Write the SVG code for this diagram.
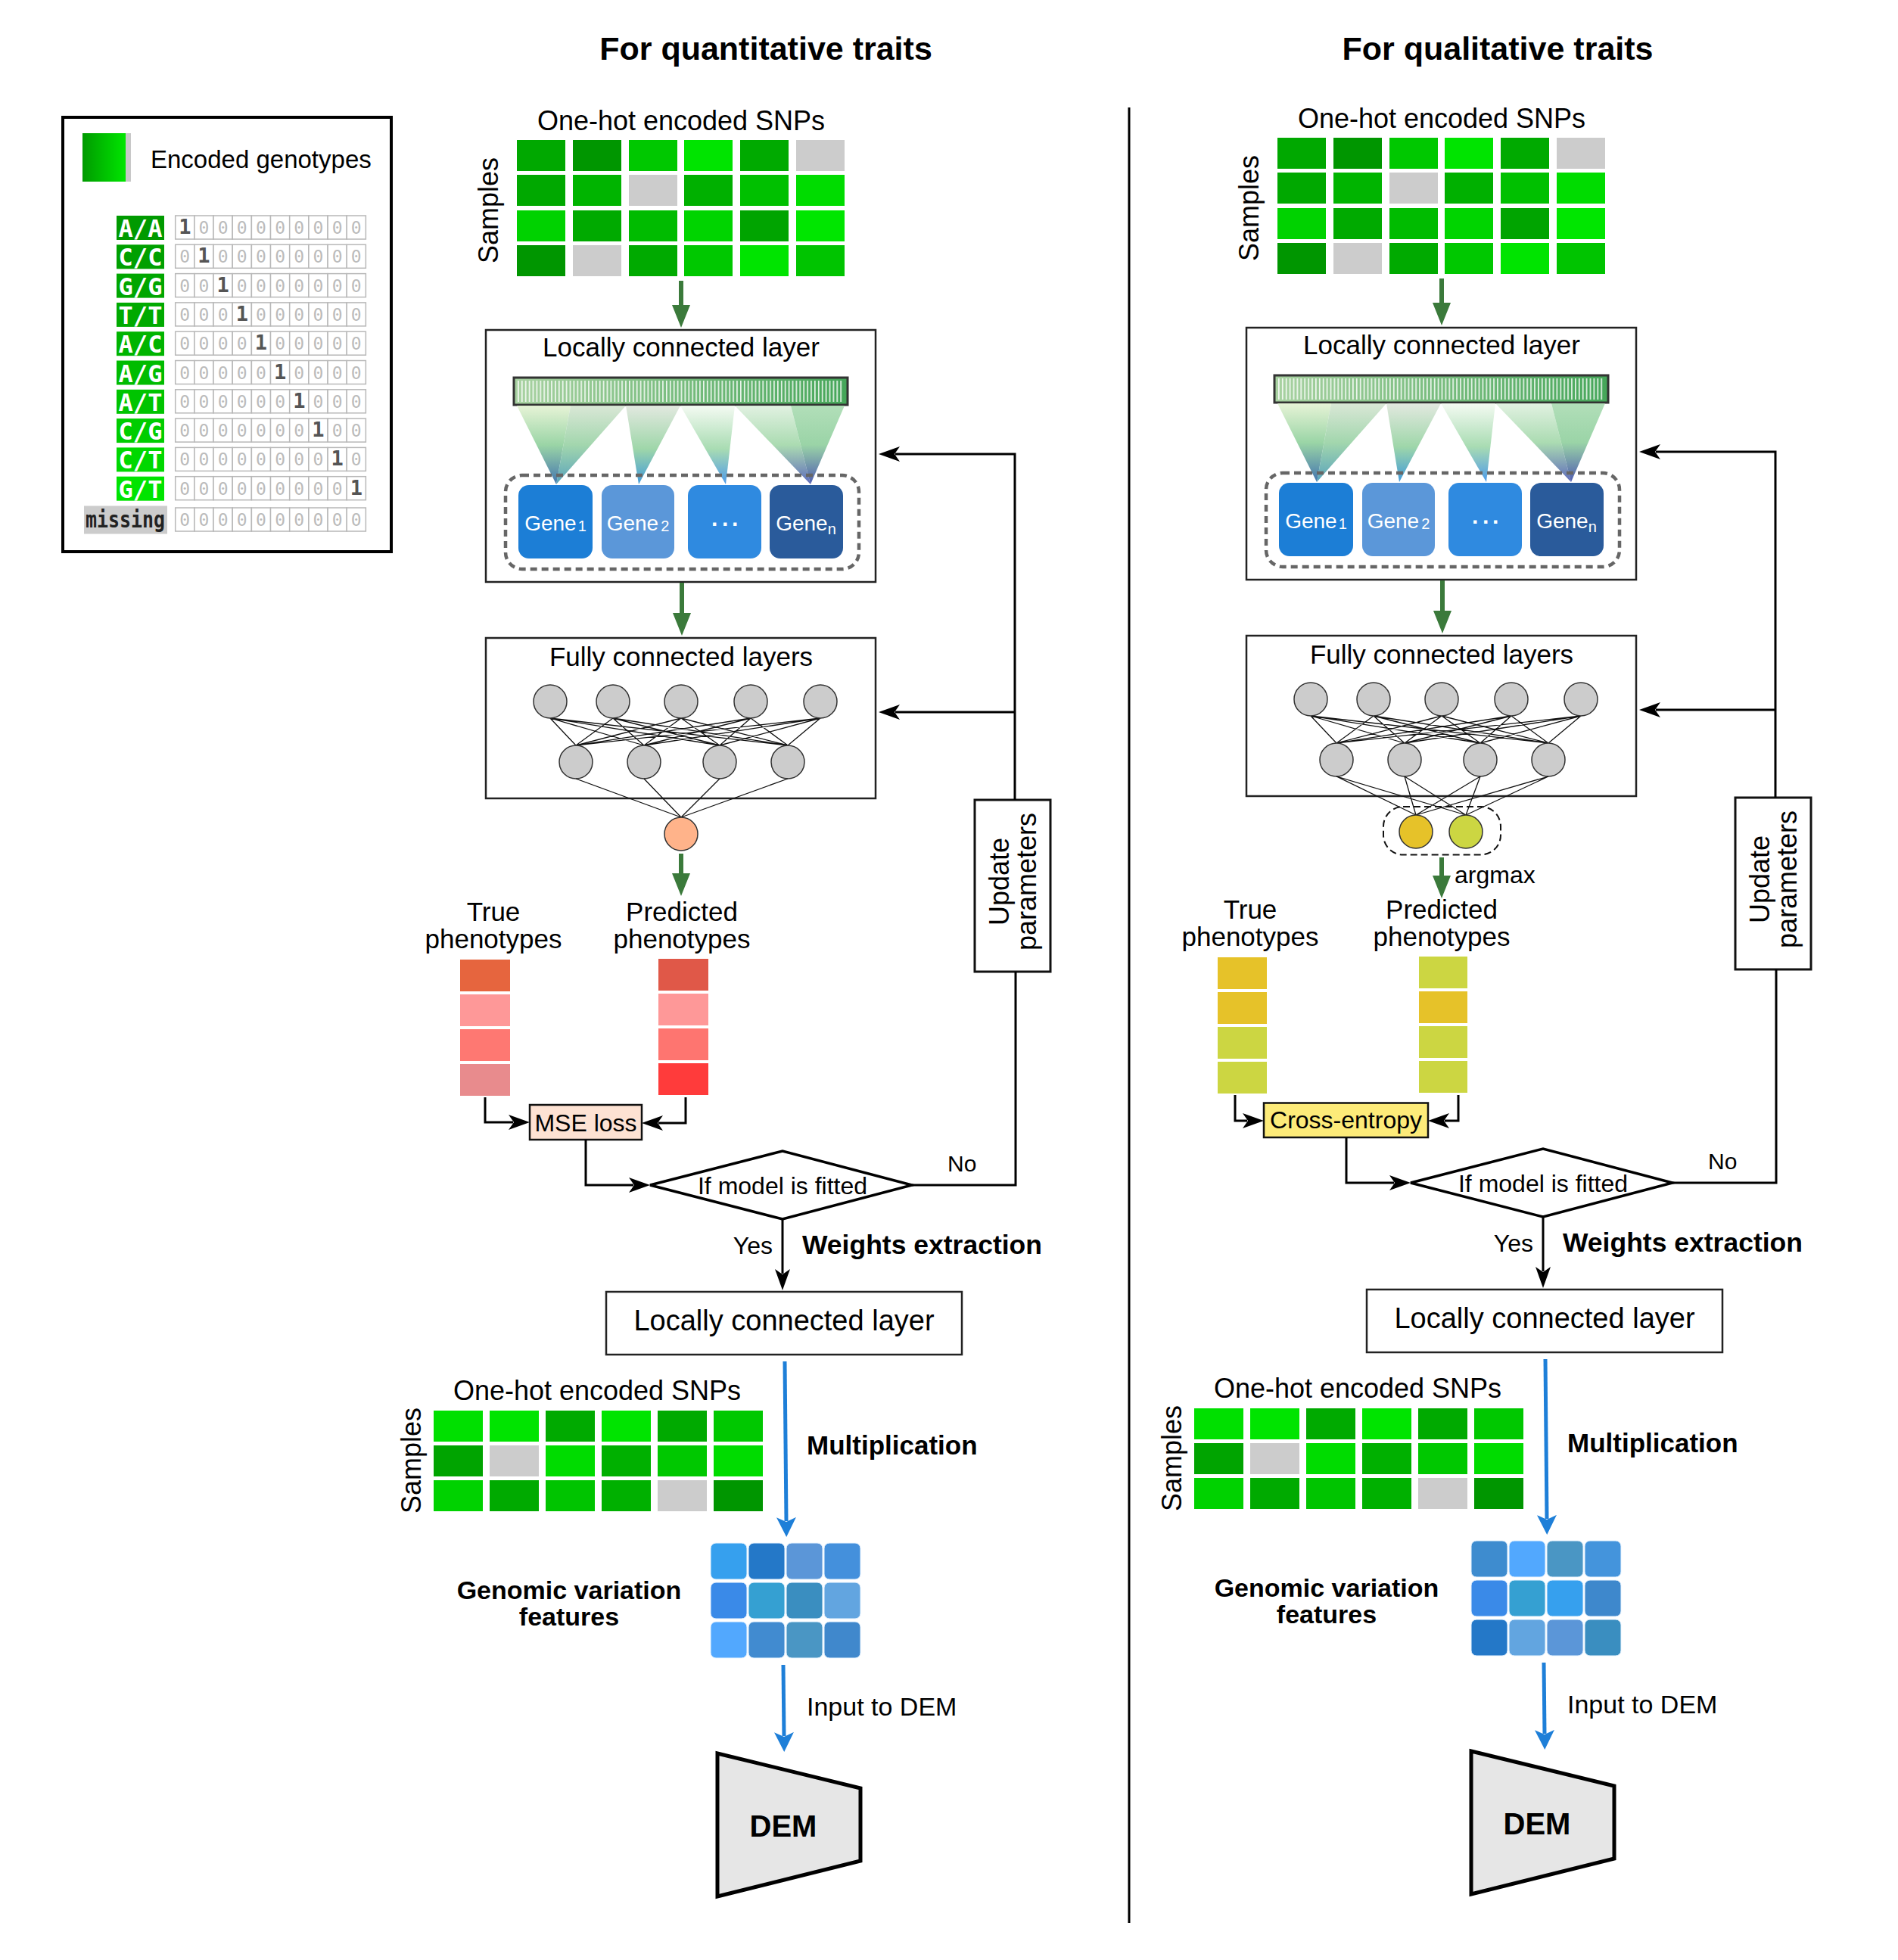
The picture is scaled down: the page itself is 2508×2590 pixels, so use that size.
<svg xmlns="http://www.w3.org/2000/svg" width="2508" height="2590" viewBox="0 0 2508 2590">
<style>
.t{font-family:'Liberation Sans',Arial,sans-serif;fill:#000}
.b{font-weight:bold}
.mid{text-anchor:middle}
.end{text-anchor:end}
.m{font-family:'DejaVu Sans Mono','Liberation Mono',monospace}
.bx{fill:#fff;stroke:#222;stroke-width:2.5}
.cn{fill:none;stroke:#000;stroke-width:3}
.gr{fill:none;stroke:#3b7a3b;stroke-width:6}
.bl{fill:none;stroke:#1e7fd8;stroke-width:5}
.nd{fill:#cccccc;stroke:#333;stroke-width:1.5}
.fl{fill:none;stroke:#111;stroke-width:1.3}
.cell{fill:#fff;stroke:#b8b8b8;stroke-width:1.5}
.z{font-size:23px;fill:#bbb}
.one{font-size:27px;font-weight:bold;fill:#555}
.lab{font-size:32px;font-weight:bold;fill:#fff}
.gene{font-size:28px;fill:#fff}
.bc{stroke:#e8f4ff;stroke-width:1}
</style>
<defs>
<marker id="ab" markerUnits="userSpaceOnUse" viewBox="0 0 28 20" markerWidth="28" markerHeight="20" refX="6" refY="10" orient="auto"><path d="M0,0 L28,10 L0,20 L7,10 Z" fill="#000"/></marker>
<marker id="ag" markerUnits="userSpaceOnUse" viewBox="0 0 30 24" markerWidth="30" markerHeight="24" refX="2" refY="12" orient="auto"><path d="M0,0 L30,12 L0,24 Z" fill="#3b7a3b"/></marker>
<marker id="au" markerUnits="userSpaceOnUse" viewBox="0 0 26 26" markerWidth="26" markerHeight="26" refX="5" refY="13" orient="auto"><path d="M0,0 L26,13 L0,26 L6,13 Z" fill="#1e7fd8"/></marker>
<linearGradient id="legG" x1="0" y1="0" x2="1" y2="0"><stop offset="0" stop-color="#009a00"/><stop offset="1" stop-color="#00e600"/></linearGradient>
<linearGradient id="barG" x1="0" y1="0" x2="1" y2="0"><stop offset="0" stop-color="#a9d2a2"/><stop offset="1" stop-color="#45a659"/></linearGradient>
<pattern id="stripes" patternUnits="userSpaceOnUse" x="684" y="0" width="4.9" height="40"><rect x="0" y="0" width="1.7" height="40" fill="#ffffff" fill-opacity="0.85"/></pattern>
<linearGradient id="fA" x1="0" y1="0" x2="0" y2="1"><stop offset="0" stop-color="#e4f2d2"/><stop offset="0.5" stop-color="#8fd09c"/><stop offset="1" stop-color="#2f66a6"/></linearGradient>
<linearGradient id="fB" x1="0" y1="0" x2="0" y2="1"><stop offset="0" stop-color="#d3e3cf"/><stop offset="0.5" stop-color="#92cf9f"/><stop offset="1" stop-color="#3a92b0"/></linearGradient>
<linearGradient id="fC" x1="0" y1="0" x2="0" y2="1"><stop offset="0" stop-color="#dfe6dc"/><stop offset="0.55" stop-color="#94d2a0"/><stop offset="1" stop-color="#2b8fd6"/></linearGradient>
<linearGradient id="fD" x1="0" y1="0" x2="0" y2="1"><stop offset="0" stop-color="#f3faf1"/><stop offset="0.55" stop-color="#9fd8aa"/><stop offset="1" stop-color="#3a8fe6"/></linearGradient>
<linearGradient id="fE" x1="0" y1="0" x2="0" y2="1"><stop offset="0" stop-color="#dcefdc"/><stop offset="0.5" stop-color="#9cd5a4"/><stop offset="1" stop-color="#4150b0"/></linearGradient>
<linearGradient id="fF" x1="0" y1="0" x2="0" y2="1"><stop offset="0" stop-color="#a9dbb1"/><stop offset="0.5" stop-color="#8fcf9d"/><stop offset="1" stop-color="#3b4aa8"/></linearGradient>
<g id="cr">
<rect class="cell" x="231.7" y="0" width="25.17" height="31"/><rect class="cell" x="256.9" y="0" width="25.17" height="31"/><rect class="cell" x="282" y="0" width="25.17" height="31"/><rect class="cell" x="307.2" y="0" width="25.17" height="31"/><rect class="cell" x="332.4" y="0" width="25.17" height="31"/><rect class="cell" x="357.5" y="0" width="25.17" height="31"/><rect class="cell" x="382.7" y="0" width="25.17" height="31"/><rect class="cell" x="407.9" y="0" width="25.17" height="31"/><rect class="cell" x="433.1" y="0" width="25.17" height="31"/><rect class="cell" x="458.2" y="0" width="25.17" height="31"/>
</g>
<g id="snpTop">
<rect x="683" y="185" width="64" height="41" fill="#00a800"/><rect x="757" y="185" width="64" height="41" fill="#009600"/><rect x="831" y="185" width="64" height="41" fill="#00c800"/><rect x="904" y="185" width="64" height="41" fill="#00e400"/><rect x="978" y="185" width="64" height="41" fill="#00aa00"/><rect x="1052" y="185" width="64" height="41" fill="#cccccc"/>
<rect x="683" y="231" width="64" height="41" fill="#00a800"/><rect x="757" y="231" width="64" height="41" fill="#00b400"/><rect x="831" y="231" width="64" height="41" fill="#cccccc"/><rect x="904" y="231" width="64" height="41" fill="#00b000"/><rect x="978" y="231" width="64" height="41" fill="#00c000"/><rect x="1052" y="231" width="64" height="41" fill="#00dc00"/>
<rect x="683" y="278" width="64" height="41" fill="#00d200"/><rect x="757" y="278" width="64" height="41" fill="#00aa00"/><rect x="831" y="278" width="64" height="41" fill="#00bb00"/><rect x="904" y="278" width="64" height="41" fill="#00d400"/><rect x="978" y="278" width="64" height="41" fill="#00a400"/><rect x="1052" y="278" width="64" height="41" fill="#00e600"/>
<rect x="683" y="324" width="64" height="41" fill="#009600"/><rect x="757" y="324" width="64" height="41" fill="#cccccc"/><rect x="831" y="324" width="64" height="41" fill="#00aa00"/><rect x="904" y="324" width="64" height="41" fill="#00c800"/><rect x="978" y="324" width="64" height="41" fill="#00e400"/><rect x="1052" y="324" width="64" height="41" fill="#00c400"/>
</g>
<g id="snpBot">
<rect x="573" y="1864" width="65" height="41" fill="#00e000"/><rect x="647" y="1864" width="65" height="41" fill="#00e400"/><rect x="721" y="1864" width="65" height="41" fill="#00aa00"/><rect x="795" y="1864" width="65" height="41" fill="#00e400"/><rect x="869" y="1864" width="65" height="41" fill="#00aa00"/><rect x="943" y="1864" width="65" height="41" fill="#00c800"/>
<rect x="573" y="1910" width="65" height="41" fill="#00a400"/><rect x="647" y="1910" width="65" height="41" fill="#cccccc"/><rect x="721" y="1910" width="65" height="41" fill="#00dc00"/><rect x="795" y="1910" width="65" height="41" fill="#00b000"/><rect x="869" y="1910" width="65" height="41" fill="#00c800"/><rect x="943" y="1910" width="65" height="41" fill="#00dc00"/>
<rect x="573" y="1956" width="65" height="41" fill="#00d200"/><rect x="647" y="1956" width="65" height="41" fill="#00aa00"/><rect x="721" y="1956" width="65" height="41" fill="#00c400"/><rect x="795" y="1956" width="65" height="41" fill="#00b000"/><rect x="869" y="1956" width="65" height="41" fill="#cccccc"/><rect x="943" y="1956" width="65" height="41" fill="#009600"/>
</g>
<g id="lclInner">
<rect x="679" y="499" width="441" height="36" fill="url(#barG)" stroke="#333" stroke-width="3"/>
<rect x="684" y="503" width="431" height="28" fill="url(#stripes)"/>
<polygon points="683,536 754,536 735,640" fill="url(#fA)" opacity="0.9"/>
<polygon points="754,536 827,536 735,640" fill="url(#fB)" opacity="0.85"/>
<polygon points="827,536 899,536 844,640" fill="url(#fC)" opacity="0.9"/>
<polygon points="899,536 971,536 959,640" fill="url(#fD)" opacity="0.9"/>
<polygon points="971,536 1045,536 1071,640" fill="url(#fE)" opacity="0.85"/>
<polygon points="1045,536 1116,536 1071,640" fill="url(#fF)" opacity="0.9"/>
<rect x="668" y="628" width="467" height="124" rx="22" fill="none" stroke="#666" stroke-width="4.5" stroke-dasharray="9 6"/>
<rect x="685" y="641" width="98" height="97" rx="14" fill="#1c7ed6"/>
<rect x="795" y="641" width="96" height="97" rx="14" fill="#5b97d9"/>
<rect x="909" y="641" width="97" height="97" rx="14" fill="#2f8ae0"/>
<rect x="1017" y="641" width="97" height="97" rx="14" fill="#2a5b9b"/>
<text class="t gene mid" x="734" y="701">Gene<tspan font-size="20" dx="2" dy="1">1</tspan></text>
<text class="t gene mid" x="843" y="701">Gene<tspan font-size="20" dx="3" dy="1">2</tspan></text>
<text class="t b mid" font-size="30" x="945 959 972" y="703" style="fill:#fff">···</text>
<text class="t gene mid" x="1065" y="701">Gene<tspan font-size="20" dy="5">n</tspan></text>
</g>
<g id="fclNet">
<path class="fl" d="M727,949L761,985M727,949L851,985M727,949L951,985M727,949L1041,985M810,949L761,985M810,949L851,985M810,949L951,985M810,949L1041,985M900,949L761,985M900,949L851,985M900,949L951,985M900,949L1041,985M992,949L761,985M992,949L851,985M992,949L951,985M992,949L1041,985M1084,949L761,985M1084,949L851,985M1084,949L951,985M1084,949L1041,985"/>
<circle class="nd" cx="727" cy="927" r="22"/><circle class="nd" cx="810" cy="927" r="22"/><circle class="nd" cx="900" cy="927" r="22"/><circle class="nd" cx="992" cy="927" r="22"/><circle class="nd" cx="1084" cy="927" r="22"/>
<circle class="nd" cx="761" cy="1007" r="22"/><circle class="nd" cx="851" cy="1007" r="22"/><circle class="nd" cx="951" cy="1007" r="22"/><circle class="nd" cx="1041" cy="1007" r="22"/>
</g>
</defs>
<rect x="0" y="0" width="2508" height="2590" fill="#fff"/>

<text class="t b mid" font-size="43" x="1012" y="79">For quantitative traits</text>
<text class="t b mid" font-size="43" x="1979" y="79">For qualitative traits</text>
<line x1="1492" y1="142" x2="1492" y2="2541" stroke="#000" stroke-width="3"/>

<g id="legend">
<rect x="83" y="155" width="434" height="574" fill="#fff" stroke="#000" stroke-width="4"/>
<rect x="109" y="176" width="57" height="64" fill="url(#legG)"/>
<rect x="166" y="176" width="7" height="64" fill="#c8c8c8"/>
<text class="t" font-size="33" x="199" y="222">Encoded genotypes</text>
<use href="#cr" y="285"/><use href="#cr" y="323.3"/><use href="#cr" y="361.6"/><use href="#cr" y="399.9"/><use href="#cr" y="438.2"/><use href="#cr" y="476.5"/><use href="#cr" y="514.8"/><use href="#cr" y="553.1"/><use href="#cr" y="591.4"/><use href="#cr" y="629.7"/><use href="#cr" y="671"/>
<rect x="154" y="285" width="63" height="32" fill="#009a00"/>
<rect x="154" y="323.3" width="63" height="32" fill="#00a000"/>
<rect x="154" y="361.6" width="63" height="32" fill="#00a600"/>
<rect x="154" y="399.9" width="63" height="32" fill="#00aa00"/>
<rect x="154" y="438.2" width="63" height="32" fill="#00b400"/>
<rect x="154" y="476.5" width="63" height="32" fill="#00bc00"/>
<rect x="154" y="514.8" width="63" height="32" fill="#00c400"/>
<rect x="154" y="553.1" width="63" height="32" fill="#00cd00"/>
<rect x="154" y="591.4" width="63" height="32" fill="#00d800"/>
<rect x="154" y="629.7" width="63" height="32" fill="#00e400"/>
<rect x="111" y="668.5" width="110" height="37" fill="#cccccc"/>
<text class="m lab mid" x="185.5" y="313">A/A</text>
<text class="m lab mid" x="185.5" y="351.3">C/C</text>
<text class="m lab mid" x="185.5" y="389.6">G/G</text>
<text class="m lab mid" x="185.5" y="427.9">T/T</text>
<text class="m lab mid" x="185.5" y="466.2">A/C</text>
<text class="m lab mid" x="185.5" y="504.5">A/G</text>
<text class="m lab mid" x="185.5" y="542.8">A/T</text>
<text class="m lab mid" x="185.5" y="581.1">C/G</text>
<text class="m lab mid" x="185.5" y="619.4">C/T</text>
<text class="m lab mid" x="185.5" y="657.7">G/T</text>
<text class="m b" font-size="30" fill="#222" x="113" y="697" textLength="105" lengthAdjust="spacingAndGlyphs">missing</text>
<text class="m z mid" y="309"><tspan class="one" x="244.3">1</tspan><tspan x="269.4 294.6 319.8 345 370.1 395.3 420.5 445.7 470.8">000000000</tspan></text>
<text class="m z mid" y="347.3"><tspan x="244.3">0</tspan><tspan class="one" x="269.4">1</tspan><tspan x="294.6 319.8 345 370.1 395.3 420.5 445.7 470.8">00000000</tspan></text>
<text class="m z mid" y="385.6"><tspan x="244.3 269.4">00</tspan><tspan class="one" x="294.6">1</tspan><tspan x="319.8 345 370.1 395.3 420.5 445.7 470.8">0000000</tspan></text>
<text class="m z mid" y="423.9"><tspan x="244.3 269.4 294.6">000</tspan><tspan class="one" x="319.8">1</tspan><tspan x="345 370.1 395.3 420.5 445.7 470.8">000000</tspan></text>
<text class="m z mid" y="462.2"><tspan x="244.3 269.4 294.6 319.8">0000</tspan><tspan class="one" x="345">1</tspan><tspan x="370.1 395.3 420.5 445.7 470.8">00000</tspan></text>
<text class="m z mid" y="500.5"><tspan x="244.3 269.4 294.6 319.8 345">00000</tspan><tspan class="one" x="370.1">1</tspan><tspan x="395.3 420.5 445.7 470.8">0000</tspan></text>
<text class="m z mid" y="538.8"><tspan x="244.3 269.4 294.6 319.8 345 370.1">000000</tspan><tspan class="one" x="395.3">1</tspan><tspan x="420.5 445.7 470.8">000</tspan></text>
<text class="m z mid" y="577.1"><tspan x="244.3 269.4 294.6 319.8 345 370.1 395.3">0000000</tspan><tspan class="one" x="420.5">1</tspan><tspan x="445.7 470.8">00</tspan></text>
<text class="m z mid" y="615.4"><tspan x="244.3 269.4 294.6 319.8 345 370.1 395.3 420.5">00000000</tspan><tspan class="one" x="445.7">1</tspan><tspan x="470.8">0</tspan></text>
<text class="m z mid" y="653.7"><tspan x="244.3 269.4 294.6 319.8 345 370.1 395.3 420.5 445.7">000000000</tspan><tspan class="one" x="470.8">1</tspan></text>
<text class="m z mid" y="695" x="244.3 269.4 294.6 319.8 345 370.1 395.3 420.5 445.7 470.8">0000000000</text>
</g>

<!-- LEFT PANEL: quantitative -->
<g id="panel-quantitative">
<g id="q-snp-input">
<text class="t mid" font-size="36" x="900" y="172">One-hot encoded SNPs</text>
<text class="t mid" font-size="36" transform="translate(658,278) rotate(-90)">Samples</text>
<use href="#snpTop"/>
</g>
<g id="q-lcl">
<rect class="bx" x="642" y="436" width="515" height="333"/>
<text class="t mid" font-size="35" x="900" y="471">Locally connected layer</text>
<use href="#lclInner"/>
</g>
<g id="q-fcl">
<rect class="bx" x="642" y="843" width="515" height="212"/>
<text class="t mid" font-size="35" x="900" y="880">Fully connected layers</text>
<use href="#fclNet"/>
</g>
<g id="q-output">
<path class="fl" d="M761,1029L900,1080M851,1029L900,1080M951,1029L900,1080M1041,1029L900,1080"/>
<circle cx="900" cy="1102" r="22" fill="#ffb38a" stroke="#333" stroke-width="1.5"/>
</g>
<g id="q-true">
<text class="t mid" font-size="35" x="652" y="1217">True</text>
<text class="t mid" font-size="35" x="652" y="1253">phenotypes</text>
<rect x="608" y="1268" width="66" height="42" fill="#e6653e"/>
<rect x="608" y="1314" width="66" height="42" fill="#fe9898"/>
<rect x="608" y="1360" width="66" height="42" fill="#fe7872"/>
<rect x="608" y="1406" width="66" height="42" fill="#e88b8d"/>
</g>
<g id="q-pred">
<text class="t mid" font-size="35" x="901" y="1217">Predicted</text>
<text class="t mid" font-size="35" x="901" y="1253">phenotypes</text>
<rect x="870" y="1267" width="66" height="42" fill="#e05848"/>
<rect x="870" y="1313" width="66" height="42" fill="#fe9898"/>
<rect x="870" y="1359" width="66" height="42" fill="#fe7570"/>
<rect x="870" y="1405" width="66" height="42" fill="#ff3b3b"/>
</g>
<g id="q-loss">
<rect x="700" y="1460" width="148" height="46" fill="#fde2d3" stroke="#111" stroke-width="2.5"/>
<text class="t mid" font-size="32" x="774" y="1495">MSE loss</text>
</g>
<g id="q-decision">
<polygon points="859,1566 1034,1521 1205,1566 1034,1611" fill="#fff" stroke="#000" stroke-width="3.5"/>
<text class="t mid" font-size="32" x="1034" y="1578">If model is fitted</text>
</g>
<g id="q-update">
<rect x="1288" y="1057" width="100" height="227" fill="#fff" stroke="#111" stroke-width="3"/>
<text class="t mid" font-size="36" transform="translate(1333,1165) rotate(-90)">Update</text>
<text class="t mid" font-size="36" transform="translate(1369,1165) rotate(-90)">parameters</text>
</g>
<g id="q-lcl2">
<rect class="bx" x="801" y="1707" width="470" height="83"/>
<text class="t mid" font-size="38" x="1036" y="1758">Locally connected layer</text>
</g>
<g id="q-snp-mult">
<text class="t mid" font-size="36" x="789" y="1850">One-hot encoded SNPs</text>
<text class="t mid" font-size="36" transform="translate(556,1930) rotate(-90)">Samples</text>
<use href="#snpBot"/>
</g>
<g id="q-features">
<g class="bc">
<rect x="939" y="2039" width="48" height="48" rx="7" fill="#36a0ee"/><rect x="989" y="2039" width="48" height="48" rx="7" fill="#2478c8"/><rect x="1039" y="2039" width="48" height="48" rx="7" fill="#5b96d8"/><rect x="1089" y="2039" width="48" height="48" rx="7" fill="#4490dc"/>
<rect x="939" y="2091" width="48" height="48" rx="7" fill="#3a8ae8"/><rect x="989" y="2091" width="48" height="48" rx="7" fill="#35a0d2"/><rect x="1039" y="2091" width="48" height="48" rx="7" fill="#3a8ec0"/><rect x="1089" y="2091" width="48" height="48" rx="7" fill="#62a5e0"/>
<rect x="939" y="2143" width="48" height="48" rx="7" fill="#52a8fe"/><rect x="989" y="2143" width="48" height="48" rx="7" fill="#418bd0"/><rect x="1039" y="2143" width="48" height="48" rx="7" fill="#4a96c4"/><rect x="1089" y="2143" width="48" height="48" rx="7" fill="#4088cc"/>
</g>
<text class="t b mid" font-size="34" x="752" y="2113">Genomic variation</text>
<text class="t b mid" font-size="34" x="752" y="2148">features</text>
</g>
<g id="q-dem">
<polygon points="948,2317 1137,2363 1137,2459 948,2506" fill="#e6e6e6" stroke="#000" stroke-width="5"/>
<text class="t b mid" font-size="40" x="1035" y="2427">DEM</text>
</g>
<g id="q-connectors">
<path class="gr" d="M900,371V405" marker-end="url(#ag)"/>
<path class="gr" d="M901,770V812" marker-end="url(#ag)"/>
<path class="gr" d="M900,1128V1156" marker-end="url(#ag)"/>
<path class="cn" d="M641,1450V1483H678" marker-end="url(#ab)"/>
<path class="cn" d="M906,1450V1484H870" marker-end="url(#ab)"/>
<path class="cn" d="M774,1506V1566H837" marker-end="url(#ab)"/>
<path class="cn" d="M1205,1566H1342V1284"/>
<path class="cn" d="M1341,1057V600H1183" marker-end="url(#ab)"/>
<path class="cn" d="M1341,941H1183" marker-end="url(#ab)"/>
<path class="cn" d="M1034,1611V1683" marker-end="url(#ab)"/>
<text class="t" font-size="30" x="1252" y="1548">No</text>
<text class="t end" font-size="32" x="1021" y="1657">Yes</text>
<text class="t b" font-size="35.5" x="1060" y="1657">Weights extraction</text>
<path class="bl" d="M1037,1799L1039,2010" marker-end="url(#au)"/>
<text class="t b" font-size="35" x="1066" y="1922">Multiplication</text>
<path class="bl" d="M1035,2200L1036,2294" marker-end="url(#au)"/>
<text class="t" font-size="34" x="1066" y="2267">Input to DEM</text>
</g>
</g>

<!-- RIGHT PANEL: qualitative -->
<g id="panel-qualitative" transform="translate(1005,-3)">
<g id="c-snp-input">
<text class="t mid" font-size="36" x="900" y="172">One-hot encoded SNPs</text>
<text class="t mid" font-size="36" transform="translate(658,278) rotate(-90)">Samples</text>
<use href="#snpTop"/>
</g>
<g id="c-lcl">
<rect class="bx" x="642" y="436" width="515" height="333"/>
<text class="t mid" font-size="35" x="900" y="471">Locally connected layer</text>
<use href="#lclInner"/>
</g>
<g id="c-fcl">
<rect class="bx" x="642" y="843" width="515" height="212"/>
<text class="t mid" font-size="35" x="900" y="880">Fully connected layers</text>
<use href="#fclNet"/>
</g>
<g id="c-output">
<path class="fl" d="M761,1029L866,1080M761,1029L932,1080M851,1029L866,1080M851,1029L932,1080M951,1029L866,1080M951,1029L932,1080M1041,1029L866,1080M1041,1029L932,1080"/>
<rect x="823" y="1069" width="155" height="63.5" rx="26" fill="none" stroke="#111" stroke-width="2" stroke-dasharray="9 5"/>
<circle cx="866" cy="1102" r="22" fill="#e6c229" stroke="#333" stroke-width="1.5"/>
<circle cx="932" cy="1102" r="22" fill="#ccd642" stroke="#333" stroke-width="1.5"/>
</g>
<g id="c-true">
<text class="t mid" font-size="35" x="647" y="1217">True</text>
<text class="t mid" font-size="35" x="647" y="1253">phenotypes</text>
<rect x="604" y="1268" width="65" height="42" fill="#e6c229"/>
<rect x="604" y="1314" width="65" height="42" fill="#e6c229"/>
<rect x="604" y="1360" width="65" height="42" fill="#ccd642"/>
<rect x="604" y="1406" width="65" height="42" fill="#ccd642"/>
</g>
<g id="c-pred">
<text class="t mid" font-size="35" x="900" y="1217">Predicted</text>
<text class="t mid" font-size="35" x="900" y="1253">phenotypes</text>
<rect x="870" y="1267" width="64" height="42" fill="#ccd642"/>
<rect x="870" y="1313" width="64" height="42" fill="#e6c229"/>
<rect x="870" y="1359" width="64" height="42" fill="#ccd642"/>
<rect x="870" y="1405" width="64" height="42" fill="#ccd642"/>
</g>
<g id="c-loss">
<rect x="665" y="1460.5" width="217" height="45.5" fill="#fdeb79" stroke="#111" stroke-width="2.5"/>
<text class="t mid" font-size="32" x="773.5" y="1494">Cross-entropy</text>
</g>
<g id="c-decision">
<polygon points="859,1566 1034,1521 1205,1566 1034,1611" fill="#fff" stroke="#000" stroke-width="3.5"/>
<text class="t mid" font-size="32" x="1034" y="1578">If model is fitted</text>
</g>
<g id="c-update">
<rect x="1288" y="1057" width="100" height="227" fill="#fff" stroke="#111" stroke-width="3"/>
<text class="t mid" font-size="36" transform="translate(1333,1165) rotate(-90)">Update</text>
<text class="t mid" font-size="36" transform="translate(1369,1165) rotate(-90)">parameters</text>
</g>
<g id="c-lcl2">
<rect class="bx" x="801" y="1707" width="470" height="83"/>
<text class="t mid" font-size="38" x="1036" y="1758">Locally connected layer</text>
</g>
<g id="c-snp-mult">
<text class="t mid" font-size="36" x="789" y="1850">One-hot encoded SNPs</text>
<text class="t mid" font-size="36" transform="translate(556,1930) rotate(-90)">Samples</text>
<use href="#snpBot"/>
</g>
<g id="c-features">
<g class="bc">
<rect x="939" y="2039" width="48" height="48" rx="7" fill="#3e8ccf"/><rect x="989" y="2039" width="48" height="48" rx="7" fill="#52a8fe"/><rect x="1039" y="2039" width="48" height="48" rx="7" fill="#4a96c4"/><rect x="1089" y="2039" width="48" height="48" rx="7" fill="#4494dc"/>
<rect x="939" y="2091" width="48" height="48" rx="7" fill="#3a8ae8"/><rect x="989" y="2091" width="48" height="48" rx="7" fill="#35a0d2"/><rect x="1039" y="2091" width="48" height="48" rx="7" fill="#36a0ee"/><rect x="1089" y="2091" width="48" height="48" rx="7" fill="#3e88cc"/>
<rect x="939" y="2143" width="48" height="48" rx="7" fill="#2478c8"/><rect x="989" y="2143" width="48" height="48" rx="7" fill="#62a5e0"/><rect x="1039" y="2143" width="48" height="48" rx="7" fill="#5b96d8"/><rect x="1089" y="2143" width="48" height="48" rx="7" fill="#3a8ec0"/>
</g>
<text class="t b mid" font-size="34" x="748" y="2113">Genomic variation</text>
<text class="t b mid" font-size="34" x="748" y="2148">features</text>
</g>
<g id="c-dem">
<polygon points="939,2317 1128,2363 1128,2459 939,2506" fill="#e6e6e6" stroke="#000" stroke-width="5"/>
<text class="t b mid" font-size="40" x="1026" y="2427">DEM</text>
</g>
<g id="c-connectors">
<path class="gr" d="M900,371V405" marker-end="url(#ag)"/>
<path class="gr" d="M901,770V812" marker-end="url(#ag)"/>
<path class="gr" d="M900,1136V1162" marker-end="url(#ag)"/>
<text class="t" font-size="32" x="917" y="1170">argmax</text>
<path class="cn" d="M627,1450V1484H643" marker-end="url(#ab)"/>
<path class="cn" d="M922,1450V1484H904" marker-end="url(#ab)"/>
<path class="cn" d="M774,1506V1566H837" marker-end="url(#ab)"/>
<path class="cn" d="M1205,1566H1342V1284"/>
<path class="cn" d="M1341,1057V600H1183" marker-end="url(#ab)"/>
<path class="cn" d="M1341,941H1183" marker-end="url(#ab)"/>
<path class="cn" d="M1034,1611V1683" marker-end="url(#ab)"/>
<text class="t" font-size="30" x="1252" y="1548">No</text>
<text class="t end" font-size="32" x="1021" y="1657">Yes</text>
<text class="t b" font-size="35.5" x="1060" y="1657">Weights extraction</text>
<path class="bl" d="M1037,1799L1039,2010" marker-end="url(#au)"/>
<text class="t b" font-size="35" x="1066" y="1922">Multiplication</text>
<path class="bl" d="M1035,2200L1036,2294" marker-end="url(#au)"/>
<text class="t" font-size="34" x="1066" y="2267">Input to DEM</text>
</g>
</g>
</svg>
